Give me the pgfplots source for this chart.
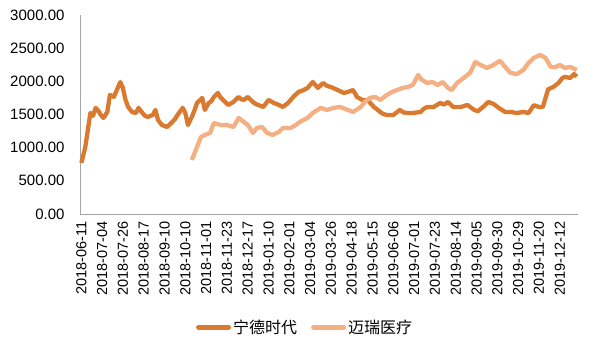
\documentclass[border=0pt]{standalone}
\usepackage{pgfplots}
\pgfplotsset{compat=1.18}
\usepackage{fontspec}
\setmainfont{Liberation Sans}
\newfontfamily\cjk{Noto Sans CJK SC}
\definecolor{darkor}{RGB}{218,122,48}
\definecolor{lightor}{RGB}{244,176,130}
\begin{document}
\begin{tikzpicture}
\path[use as bounding box] (-80pt,-137pt) rectangle (514pt,214pt);
\begin{axis}[
  at={(0pt,0pt)}, anchor=south west,
  scale only axis, width=498pt, height=199pt,
  xmin=-1, xmax=382, ymin=0, ymax=3000,
  axis y line=left, axis x line=bottom,
  axis line style={draw=gray!70, line width=0.8pt, -},
  major tick length=0pt,
  ytick={0,500,...,3000},
  yticklabel style={font=\fontsize{15}{15}\selectfont, /pgf/number format/.cd, fixed, fixed zerofill, precision=2, 1000 sep={}, assume math mode=true},
  yticklabel shift=12pt,
  xtick={0,16,...,368},
  xticklabels={2018-06-11,2018-07-04,2018-07-26,2018-08-17,2018-09-10,2018-10-10,2018-11-01,2018-11-23,2018-12-17,2019-01-10,2019-02-01,2019-03-04,2019-03-26,2019-04-18,2019-05-15,2019-06-06,2019-07-01,2019-07-23,2019-08-14,2019-09-05,2019-09-30,2019-10-29,2019-11-20,2019-12-12},
  xticklabel style={rotate=90, anchor=east, font=\fontsize{14.5}{14.5}\selectfont},
  xticklabel shift=4pt,
  legend style={at={(0.452,-0.568)}, anchor=center, draw=none, legend columns=2, font=\cjk\fontsize{16}{16}\selectfont, /tikz/every even column/.append style={column sep=12pt}},
  legend image code/.code={\draw[line width=5pt, line cap=round] (0pt,0pt) -- (30pt,0pt);},
  clip=false,
]
\addplot[darkor, line width=4.3pt, line join=round] coordinates {
(0,770)(3,1000)(7,1523)(9,1480)(11,1600)(13,1560)(15,1493)(17,1448)(20,1538)(22,1795)(25,1765)(28,1900)(30,1990)(32,1900)(34,1720)(36,1614)(39,1538)(42,1523)(44,1600)(47,1523)(49,1480)(51,1463)(55,1493)(57,1569)(59,1418)(62,1342)(66,1312)(70,1388)(72,1430)(74,1493)(78,1600)(80,1523)(82,1342)(85,1463)(87,1560)(89,1674)(93,1750)(95,1569)(98,1674)(100,1700)(102,1765)(105,1825)(107,1760)(109,1720)(113,1644)(117,1689)(121,1765)(123,1730)(125,1720)(128,1765)(132,1689)(134,1660)(136,1644)(140,1614)(144,1720)(148,1674)(152,1644)(155,1614)(159,1674)(161,1720)(163,1765)(167,1840)(170,1860)(174,1900)(178,1990)(182,1900)(186,1976)(189,1930)(192,1915)(197,1870)(202,1825)(205,1840)(209,1870)(212,1765)(216,1720)(220,1720)(225,1614)(230,1538)(232,1510)(235,1493)(240,1493)(245,1569)(248,1530)(251,1523)(255,1523)(261,1538)(263,1580)(266,1614)(271,1614)(276,1674)(279,1650)(282,1689)(286,1614)(292,1614)(297,1644)(302,1570)(305,1550)(309,1614)(313,1689)(317,1660)(321,1600)(326,1538)(330,1538)(335,1523)(340,1538)(344,1523)(348,1640)(352,1614)(355,1614)(359,1880)(363,1915)(367,1976)(370,2050)(372,2066)(376,2051)(379,2110)(381,2070)
};
\addlegendentry{宁德时代}
\addplot[lightor, line width=4.3pt, line join=round] coordinates {
(85,815)(89,1010)(92,1161)(95,1192)(99,1222)(102,1372)(107,1342)(112,1342)(117,1312)(121,1448)(125,1388)(128,1342)(132,1222)(135,1297)(139,1312)(143,1222)(147,1192)(152,1237)(155,1297)(161,1297)(165,1342)(168,1388)(174,1448)(178,1523)(181,1560)(184,1600)(189,1569)(194,1600)(199,1614)(205,1569)(209,1538)(215,1614)(218,1689)(222,1750)(226,1765)(230,1720)(235,1795)(239,1840)(243,1870)(247,1900)(251,1915)(255,1945)(259,2096)(262,2021)(266,1976)(270,1990)(274,1945)(278,1990)(282,1900)(285,1870)(289,1976)(294,2051)(299,2127)(303,2290)(307,2247)(312,2202)(317,2247)(322,2310)(326,2217)(330,2127)(335,2110)(340,2172)(344,2278)(348,2353)(353,2398)(357,2353)(361,2217)(365,2217)(368,2247)(372,2202)(376,2217)(381,2172)
};
\addlegendentry{迈瑞医疗}
\end{axis}
\end{tikzpicture}
\end{document}
